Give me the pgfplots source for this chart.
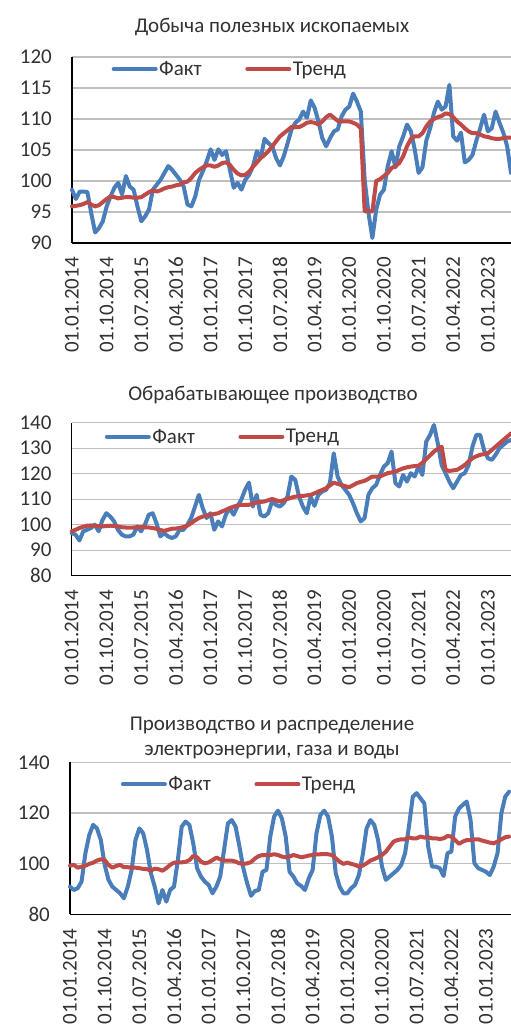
\documentclass[border=0pt]{standalone}
\usepackage{fontspec}
\setmainfont{Carlito}
\usepackage{pgfplots}
\usepackage{pgfplotstable}
\pgfplotsset{compat=1.18}
\definecolor{fblue}{RGB}{74,126,187}
\definecolor{tred}{RGB}{190,75,72}
\definecolor{gridc}{RGB}{191,191,191}
\definecolor{txt}{RGB}{50,50,50}

\pgfplotstableread{
i fact trend
0 98.6 95.9
1 97.1 96.0
2 98.3 96.1
3 98.3 96.3
4 98.2 96.6
5 94.8 96.2
6 91.7 95.9
7 92.4 96.1
8 93.5 96.6
9 95.9 97.1
10 97.5 97.5
11 98.9 97.4
12 99.7 97.2
13 97.8 97.3
14 100.8 97.4
15 99.1 97.4
16 98.6 97.3
17 95.9 97.3
18 93.5 97.4
19 94.3 97.8
20 95.4 98.2
21 98.6 98.5
22 99.4 98.3
23 100.2 98.5
24 101.3 98.8
25 102.4 99.0
26 101.8 99.1
27 101.0 99.3
28 100.2 99.4
29 99.1 99.8
30 96.2 99.9
31 95.9 100.5
32 97.5 101.3
33 100.2 101.8
34 101.6 102.2
35 103.2 102.5
36 105.1 102.5
37 103.4 102.3
38 105.1 102.5
39 104.2 102.9
40 104.8 103.0
41 101.8 102.6
42 98.9 101.8
43 99.7 101.2
44 98.6 100.9
45 100.2 101.0
46 101.0 101.5
47 102.4 102.3
48 104.8 103.0
49 103.7 103.7
50 106.8 104.2
51 106.1 104.8
52 105.6 105.6
53 103.7 106.4
54 102.5 107.2
55 104.0 107.7
56 106.1 108.2
57 108.3 108.7
58 109.4 108.7
59 109.9 108.7
60 111.2 109.0
61 110.2 109.4
62 113.0 109.5
63 111.8 109.4
64 109.6 109.1
65 106.9 109.6
66 105.6 110.3
67 106.9 110.7
68 108.0 110.2
69 108.3 109.7
70 110.4 109.6
71 111.5 109.6
72 112.0 109.6
73 114.1 109.4
74 112.8 109.1
75 111.2 108.5
76 100.2 95.1
77 94.8 95.1
78 90.8 95.1
79 95.4 100.0
80 97.8 100.3
81 98.6 100.8
82 102.4 101.3
83 104.8 102.1
84 102.2 102.4
85 105.6 102.9
86 107.2 104.0
87 109.1 105.6
88 108.0 106.8
89 105.1 107.2
90 101.3 107.2
91 102.2 107.7
92 106.5 108.8
93 108.5 109.6
94 111.0 110.0
95 112.8 110.3
96 111.5 110.5
97 112.0 110.9
98 115.5 110.8
99 107.2 110.3
100 106.5 109.6
101 107.8 109.1
102 103.0 108.5
103 103.4 108.0
104 104.2 107.7
105 106.5 107.7
106 108.5 107.5
107 110.7 107.2
108 108.0 107.1
109 108.5 106.9
110 111.2 106.8
111 109.4 106.8
112 107.8 106.9
113 105.6 107.0
114 101.3 107.0
}\mining

\pgfplotstableread{
i fact trend
0 96.7 97.4
1 96.1 98.0
2 93.8 98.7
3 97.4 99.2
4 98.0 99.6
5 98.7 99.7
6 100.0 99.6
7 97.4 99.4
8 101.9 99.3
9 104.5 99.5
10 103.2 99.6
11 101.3 99.5
12 98.0 99.3
13 96.1 99.0
14 95.4 98.9
15 95.4 98.9
16 96.1 98.9
17 99.3 99.0
18 97.4 99.1
19 100.0 99.0
20 103.9 98.9
21 104.5 98.7
22 100.6 98.4
23 95.4 97.9
24 96.7 97.6
25 95.4 98.0
26 94.8 98.4
27 95.4 98.5
28 98.0 98.7
29 98.0 99.1
30 100.0 99.6
31 102.6 100.6
32 107.1 101.7
33 111.7 102.6
34 106.5 103.2
35 102.6 103.6
36 104.5 103.9
37 98.0 104.2
38 101.3 104.5
39 99.3 105.2
40 103.9 105.8
41 106.5 106.5
42 103.9 107.1
43 107.1 107.5
44 109.8 107.8
45 113.7 107.8
46 116.5 107.8
47 107.1 108.3
48 111.7 108.7
49 103.9 108.9
50 103.2 109.1
51 104.5 109.6
52 109.1 110.1
53 107.8 109.6
54 107.1 109.1
55 108.4 109.6
56 111.0 110.1
57 118.9 110.6
58 117.6 111.0
59 111.0 111.2
60 107.1 111.3
61 104.5 111.5
62 111.0 111.7
63 107.4 112.3
64 111.7 113.0
65 113.0 113.6
66 113.7 114.3
67 116.3 115.4
68 128.0 116.5
69 118.9 116.0
70 115.6 115.6
71 113.7 115.1
72 111.7 114.7
73 108.4 115.5
74 104.5 116.3
75 101.3 116.8
76 102.6 117.2
77 111.7 118.0
78 114.3 118.9
79 115.6 118.9
80 119.5 118.9
81 122.8 119.6
82 124.1 120.2
83 128.7 120.5
84 116.3 120.8
85 115.0 121.5
86 119.5 122.1
87 116.9 122.5
88 120.2 122.8
89 118.9 123.0
90 122.8 123.1
91 119.5 124.3
92 132.6 125.7
93 135.2 127.2
94 139.1 128.7
95 131.9 129.7
96 123.4 130.6
97 120.2 121.5
98 116.9 121.1
99 114.3 121.3
100 116.9 121.5
101 119.5 122.4
102 120.2 123.4
103 123.4 124.8
104 130.6 126.1
105 135.2 126.8
106 135.2 127.4
107 129.3 127.7
108 126.1 128.0
109 125.4 129.3
110 127.4 130.6
111 130.0 131.9
112 131.3 133.2
113 132.6 134.5
114 133.2 135.8
}\manuf

\pgfplotstableread{
i fact trend
0 90.9 99.2
1 89.6 99.5
2 90.3 98.4
3 92.9 98.8
4 104.1 99.2
5 111.3 99.9
6 115.3 100.4
7 113.9 101.2
8 109.3 101.7
9 99.5 101.4
10 93.6 99.5
11 90.9 98.4
12 89.6 99.1
13 88.3 99.5
14 86.3 98.6
15 90.9 98.6
16 97.5 98.4
17 109.3 98.4
18 113.9 98.2
19 112.0 97.9
20 105.4 97.8
21 96.2 97.2
22 90.9 98.0
23 84.3 97.8
24 89.6 97.2
25 85.0 98.2
26 89.6 99.5
27 90.9 100.4
28 101.4 100.5
29 114.6 100.5
30 116.6 100.7
31 115.3 101.4
32 108.0 103.0
33 98.2 102.5
34 94.9 100.8
35 92.9 100.1
36 91.6 100.5
37 88.3 101.4
38 90.9 102.4
39 94.9 101.7
40 105.4 101.2
41 115.9 101.2
42 117.2 101.2
43 114.6 100.8
44 106.7 100.1
45 98.2 99.9
46 92.2 100.1
47 87.3 100.6
48 89.2 102.0
49 89.6 103.0
50 96.8 103.4
51 97.5 103.4
52 110.7 103.4
53 118.6 103.7
54 120.9 103.4
55 117.9 102.8
56 110.7 102.5
57 96.8 102.8
58 94.9 103.4
59 92.2 103.0
60 91.2 102.5
61 89.6 102.8
62 94.2 103.2
63 97.5 103.4
64 112.0 103.7
65 119.2 103.7
66 120.9 103.8
67 118.6 103.7
68 110.7 103.4
69 96.2 102.1
70 90.9 100.8
71 88.3 99.9
72 88.3 100.4
73 90.3 99.9
74 91.6 99.5
75 95.5 98.8
76 103.4 99.2
77 113.9 100.1
78 117.2 101.2
79 115.3 101.8
80 109.3 102.5
81 98.8 103.4
82 93.6 104.7
83 94.9 106.7
84 96.2 108.7
85 97.5 109.3
86 99.5 109.6
87 104.1 109.6
88 114.6 110.3
89 126.4 110.0
90 127.8 110.0
91 125.8 110.7
92 123.8 110.3
93 106.7 110.4
94 98.8 110.0
95 98.8 110.0
96 98.2 109.7
97 95.1 110.0
98 104.1 110.9
99 104.7 110.7
100 118.6 109.3
101 121.8 107.8
102 123.2 108.7
103 124.5 109.3
104 117.2 109.3
105 100.1 109.6
106 98.2 109.6
107 97.5 109.1
108 96.8 108.7
109 95.5 108.3
110 98.8 108.0
111 104.1 108.7
112 119.9 109.6
113 126.4 110.4
114 128.4 110.7
}\energy

\newcommand{\fs}{\fontsize{21}{25}\selectfont}

\pgfplotsset{
  myax/.style={
    scale only axis,
    xmin=0, xmax=114,
    axis x line*=bottom, axis y line*=left,
    axis line style={black, line width=1.3pt, -},
    major tick length=0pt,
    ymajorgrids, grid style={gridc, line width=1.3pt},
    xtick={0,9,...,108},
    xticklabels={01.01.2014,01.10.2014,01.07.2015,01.04.2016,01.01.2017,01.10.2017,01.07.2018,01.04.2019,01.01.2020,01.10.2020,01.07.2021,01.04.2022,01.01.2023},
    xticklabel style={rotate=90, anchor=east, inner sep=0pt, font=\fs, text=txt},
    xticklabel shift=14pt,
    yticklabel style={anchor=east, inner sep=0pt, font=\fs, text=txt},
    yticklabel shift=20pt,
    /pgf/number format/assume math mode=true,
    /pgf/number format/1000 sep={},
    clip=false,
    legend columns=2,
    legend style={draw=none, fill=none, font=\fs, text=txt, anchor=west, inner sep=0pt,
      nodes={inner sep=1.5pt},
      /tikz/every even column/.append style={column sep=42pt}},
    legend image code/.code={\draw[##1] (0pt,0pt) -- (42pt,0pt);},
    every axis plot/.append style={line join=round, line cap=round, line width=4pt},
  }
}

\begin{document}
\begin{tikzpicture}[x=1pt,y=1pt]
\useasboundingbox (0,0) rectangle (511,1025);

\node[font=\fs, text=txt] at (272,998) {Добыча полезных ископаемых};
\begin{axis}[myax, at={(72pt,782pt)}, anchor=south west, width=439pt, height=186pt,
  ymin=90, ymax=120, ytick={90,95,...,120},
  legend style={at={(0.09,0.935)}}]
\addplot[fblue] table[x=i, y=fact] {\mining};
\addplot[tred] table[x=i, y=trend] {\mining};
\legend{Факт,Тренд}
\end{axis}

\node[font=\fs, text=txt] at (273,630) {Обрабатывающее производство};
\begin{axis}[myax, at={(71.7pt,449.3pt)}, anchor=south west, width=439.3pt, height=153pt,
  ymin=80, ymax=140, ytick={80,90,...,140},
  legend style={at={(0.075,0.908)}}]
\addplot[fblue] table[x=i, y=fact] {\manuf};
\addplot[tred] table[x=i, y=trend] {\manuf};
\legend{Факт,Тренд}
\end{axis}

\node[font=\fs, text=txt, align=center] at (272,287) {Производство и распределение\\электроэнергии, газа и воды};
\begin{axis}[myax, at={(70pt,110.7pt)}, anchor=south west, width=441pt, height=152pt,
  xmax=114.5,
  ymin=80, ymax=140, ytick={80,100,...,140},
  legend style={at={(0.115,0.855)}}]
\addplot[fblue] table[x=i, y=fact] {\energy};
\addplot[tred] table[x=i, y=trend] {\energy};
\legend{Факт,Тренд}
\end{axis}
\end{tikzpicture}
\end{document}
